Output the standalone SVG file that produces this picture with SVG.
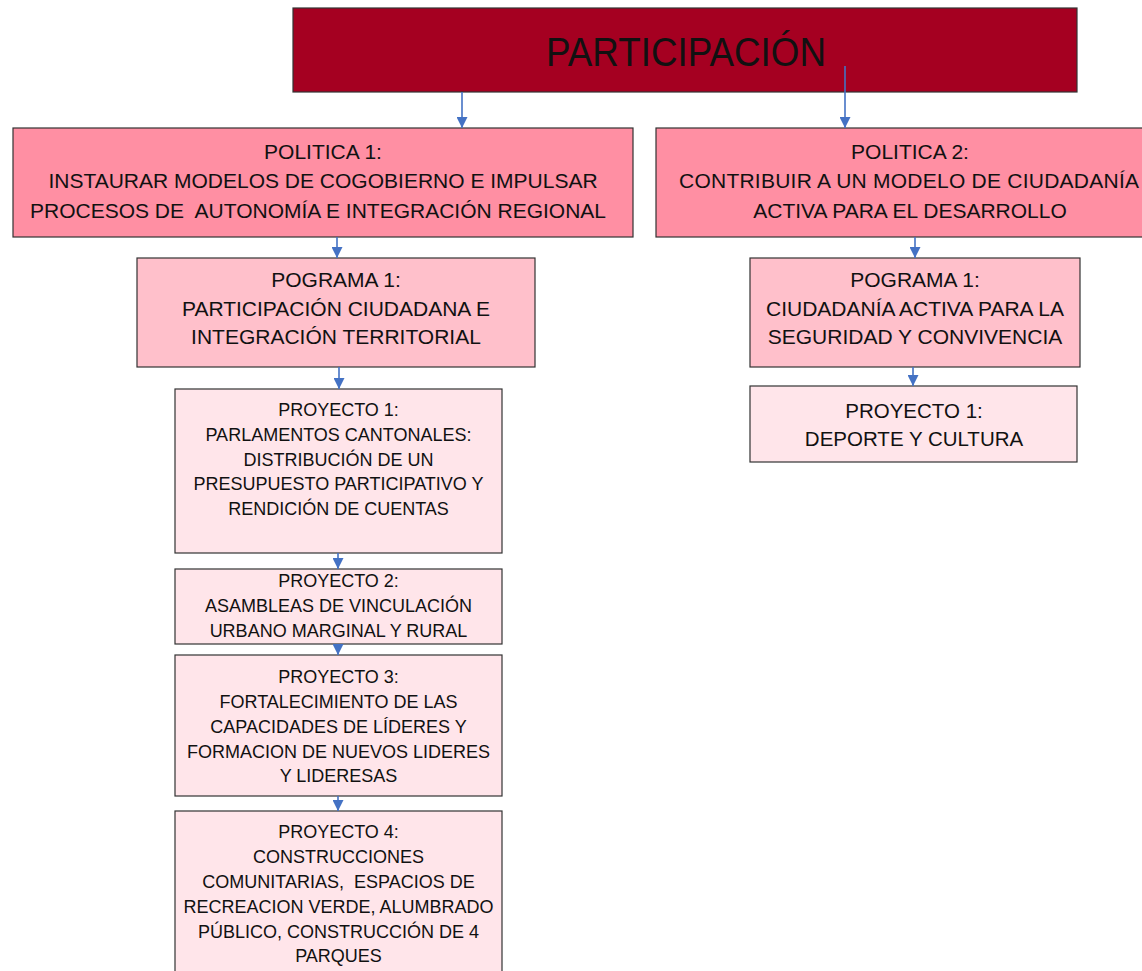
<svg xmlns="http://www.w3.org/2000/svg" width="1142" height="971" viewBox="0 0 1142 971">
<style>
.box{stroke:#333;stroke-width:1.2}
.top{fill:#A50021}
.pol{fill:#FF8FA3}
.prog{fill:#FFC0CB}
.proy{fill:#FFE5EA}
text{font-family:"Liberation Sans",Arial,sans-serif;fill:#111;text-anchor:middle}
.t21{font-size:21px}
.t18{font-size:18px}
.con{stroke:#4472C4;stroke-width:1.6;fill:none;marker-end:url(#ah)}
</style>
<defs>
<marker id="ah" markerUnits="userSpaceOnUse" markerWidth="11" markerHeight="11" refX="10" refY="5" orient="auto" viewBox="0 0 10 10">
<path d="M0,0 L10,5 L0,10 z" fill="#4472C4"/>
</marker>
</defs>
<g id="n-participacion">
<rect class="box top" x="293" y="8" width="784" height="84"/>
<text x="686" y="66" style="font-size:40px" textLength="280" lengthAdjust="spacingAndGlyphs">PARTICIPACIÓN</text>
</g>
<g id="n-politica1">
<rect class="box pol" x="13" y="128" width="620" height="109"/>
<text class="t21" x="323" y="159">POLITICA 1:</text>
<text class="t21" x="323" y="188">INSTAURAR MODELOS DE COGOBIERNO E IMPULSAR</text>
<text class="t21" x="318" y="218" xml:space="preserve">PROCESOS DE  AUTONOMÍA E INTEGRACIÓN REGIONAL</text>
</g>
<g id="n-politica2">
<rect class="box pol" x="656" y="128" width="510" height="109"/>
<text class="t21" x="910" y="159">POLITICA 2:</text>
<text class="t21" x="909" y="188" textLength="460" lengthAdjust="spacing">CONTRIBUIR A UN MODELO DE CIUDADANÍA</text>
<text class="t21" x="910" y="218">ACTIVA PARA EL DESARROLLO</text>
</g>
<g id="n-programa1-left">
<rect class="box prog" x="137" y="258" width="398" height="109"/>
<text class="t21" x="336" y="287">POGRAMA 1:</text>
<text class="t21" x="336" y="315.5">PARTICIPACIÓN CIUDADANA E</text>
<text class="t21" x="336" y="344">INTEGRACIÓN TERRITORIAL</text>
</g>
<g id="n-programa1-right">
<rect class="box prog" x="750" y="258" width="330" height="109"/>
<text class="t21" x="915" y="287">POGRAMA 1:</text>
<text class="t21" x="915" y="315.5">CIUDADANÍA ACTIVA PARA LA</text>
<text class="t21" x="915" y="344">SEGURIDAD Y CONVIVENCIA</text>
</g>
<g id="n-proyecto1-right">
<rect class="box proy" x="750" y="386" width="327" height="76"/>
<text x="914" y="417.5" style="font-size:20.5px">PROYECTO 1:</text>
<text x="914" y="445.5" style="font-size:20.5px">DEPORTE Y CULTURA</text>
</g>
<g id="n-proyecto1">
<rect class="box proy" x="175" y="389" width="327" height="164"/>
<text class="t18" x="338.5" y="416">PROYECTO 1:</text>
<text class="t18" x="338.5" y="441">PARLAMENTOS CANTONALES:</text>
<text class="t18" x="338.5" y="466">DISTRIBUCIÓN DE UN</text>
<text class="t18" x="338.5" y="490">PRESUPUESTO PARTICIPATIVO Y</text>
<text class="t18" x="338.5" y="515">RENDICIÓN DE CUENTAS</text>
</g>
<g id="n-proyecto2">
<rect class="box proy" x="175" y="569" width="327" height="75"/>
<text class="t18" x="338.5" y="587">PROYECTO 2:</text>
<text class="t18" x="338.5" y="612">ASAMBLEAS DE VINCULACIÓN</text>
<text class="t18" x="338.5" y="637">URBANO MARGINAL Y RURAL</text>
</g>
<g id="n-proyecto3">
<rect class="box proy" x="175" y="655" width="327" height="141"/>
<text class="t18" x="338.5" y="683">PROYECTO 3:</text>
<text class="t18" x="338.5" y="708">FORTALECIMIENTO DE LAS</text>
<text class="t18" x="338.5" y="732.5">CAPACIDADES DE LÍDERES Y</text>
<text class="t18" x="338.5" y="757.5">FORMACION DE NUEVOS LIDERES</text>
<text class="t18" x="338.5" y="782">Y LIDERESAS</text>
</g>
<g id="n-proyecto4">
<rect class="box proy" x="175" y="811" width="327" height="175"/>
<text class="t18" x="338.5" y="838">PROYECTO 4:</text>
<text class="t18" x="338.5" y="863">CONSTRUCCIONES</text>
<text class="t18" x="338.5" y="887.5" xml:space="preserve">COMUNITARIAS,  ESPACIOS DE</text>
<text class="t18" x="338.5" y="912.5">RECREACION VERDE, ALUMBRADO</text>
<text class="t18" x="338.5" y="937.5">PÚBLICO, CONSTRUCCIÓN DE 4</text>
<text class="t18" x="338.5" y="962">PARQUES</text>
</g>
<g id="connectors">
<line class="con" x1="462" y1="92" x2="462" y2="128"/>
<line class="con" x1="845" y1="66" x2="845" y2="128"/>
<line class="con" x1="337" y1="237" x2="337" y2="258"/>
<line class="con" x1="339" y1="367" x2="339" y2="389"/>
<line class="con" x1="338" y1="553" x2="338" y2="569"/>
<line class="con" x1="338" y1="644" x2="338" y2="655"/>
<line class="con" x1="338" y1="796" x2="338" y2="811"/>
<line class="con" x1="915" y1="237" x2="915" y2="258"/>
<line class="con" x1="913" y1="367" x2="913" y2="386"/>
</g>
</svg>
